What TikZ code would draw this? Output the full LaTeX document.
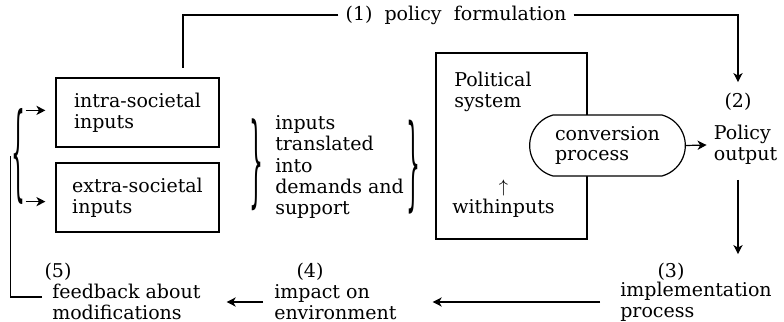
\documentclass[tikz,border=0pt]{standalone}
\usepackage{fontspec}
\usepackage{graphicx}
\setmainfont{DejaVu Serif}
\usetikzlibrary{shapes.misc,arrows.meta}
\newcommand{\lbrc}[1]{\resizebox*{7pt}{#1}{\fontsize{28}{28}\selectfont\{}}
\newcommand{\rbrc}[1]{\resizebox*{7pt}{#1}{\fontsize{28}{28}\selectfont\}}}
\begin{document}
\begin{tikzpicture}[x=0.5pt,y=-0.5pt,line width=0.6pt,
		every node/.style={font=\fontsize{9.5}{10.3}\selectfont,align=left},
		inbox/.style={draw,minimum width=81.5pt,minimum height=34.5pt},
		brc/.style={inner sep=0pt},
		arr/.style={-{Stealth[length=4.5pt,width=4.6pt,inset=1.3pt]}}]
		\useasboundingbox (0,0) rectangle (784,322);
		% inputs
		\node[inbox] (intra) at (137.5,112.5) {intra-societal\\inputs};
		\node[inbox] (extra) at (137.5,197.5) {extra-societal\\inputs};
		\node[brc] (lbr) at (18,156) {\lbrc{48pt}};
		\draw[arr,shorten >=5pt] ([yshift=-1.5pt]lbr.north east) -- ([yshift=-1.5pt]lbr.north east -| intra.west);
		\draw[arr,shorten >=5pt] ([yshift=1.5pt]lbr.south east) -- ([yshift=1.5pt]lbr.south east -| extra.west);
		\node[brc] (br1) at (256,165) {\rbrc{46pt}};
		\node[anchor=west,font=\fontsize{9.5}{10.6}\selectfont] (dem) at (268,167) {inputs\\translated\\into\\demands and\\support};
		\node[brc] (br2) at (414,167) {\rbrc{47pt}};
		% political system
		\node[draw,minimum width=75.5pt,minimum height=93pt] (pol) at (511.5,146) {};
		\node[anchor=west] (psys) at (447,92) {Political\\system};
		\node[align=center] (win) at (503.5,199) {$\uparrow$\\withinputs};
		\node[draw,fill=white,rounded rectangle,rounded rectangle arc length=150,
			minimum width=84.5pt,minimum height=30.5pt] (conv) at (607.5,145.5) {conversion\\process};
		\node (out) at (745.5,145) {Policy\\output};
		\node (n2) at (738,102) {(2)};
		% (1) top loop
		\node (p1) at (456,15) {(1)\ \ policy\ \ formulation};
		\coordinate (top) at (183,68);
		\draw (p1.west) -| (top);
		\draw[arr,shorten >=2pt] (p1.east) -| (n2.north);
		\draw[arr] (conv.east) -- (out.west);
		% bottom row
		\node (n3) at (671,272) {(3)};
		\node[anchor=west] (impl) at (613,302) {implementation\\process};
		\draw[arr,shorten <=4pt,shorten >=1pt] (n2 |- out.south) -- (n2 |- n3.north);
		\node (n4) at (310,272) {(4)};
		\node[anchor=west] (imp) at (267,302) {impact on\\environment};
		\node (n5) at (58,272) {(5)};
		\node[anchor=west] (fb) at (45,302) {feedback about\\modifications};
		\draw[arr,shorten <=6.5pt,shorten >=14.5pt] (impl.west) -- (imp.east);
		\draw[arr,shorten <=2pt,shorten >=9.5pt] (imp.west) -- (fb.east);
		\coordinate (fbk) at (42,297);
		\draw (fbk) -| (lbr.west);
	\end{tikzpicture}
\end{document}
